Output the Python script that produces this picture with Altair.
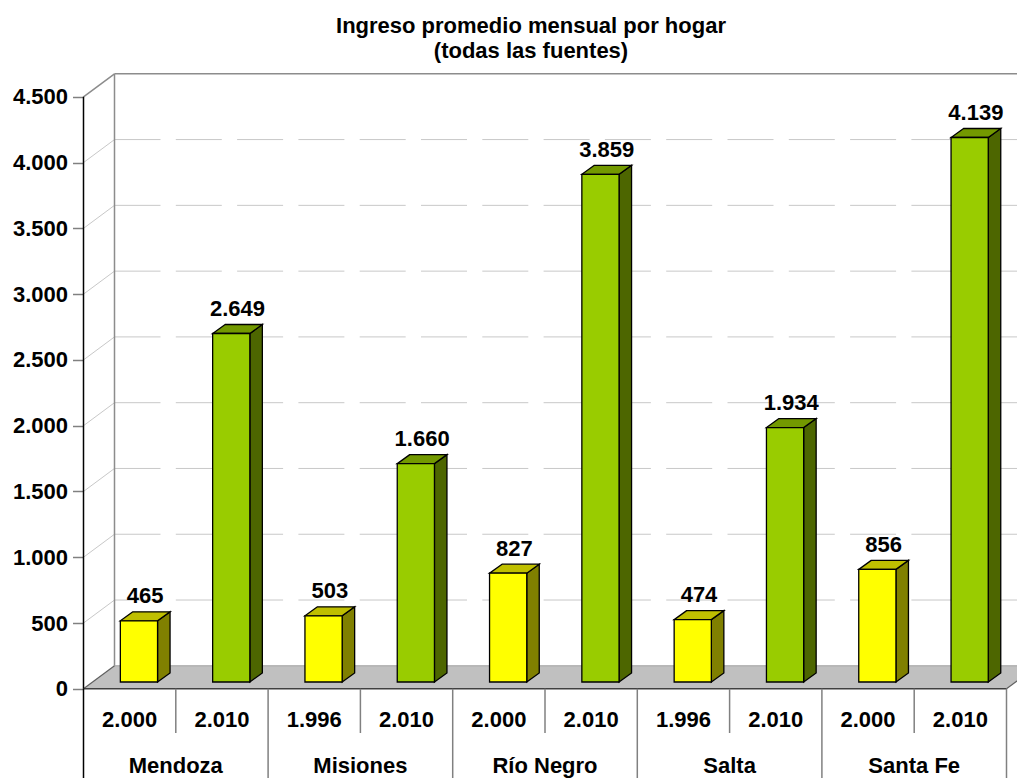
import altair as alt
import pandas as pd

# ---------------- data ----------------
title_lines = ["Ingreso promedio mensual por hogar", "(todas las fuentes)"]
provinces = ["Mendoza", "Misiones", "Río Negro", "Salta", "Santa Fe"]
first_year = ["2.000", "1.996", "2.000", "1.996", "2.000"]
second_year = ["2.010", "2.010", "2.010", "2.010", "2.010"]
first_values = [465, 503, 827, 474, 856]
second_values = [2649, 1660, 3859, 1934, 4139]
y_ticks = [0, 500, 1000, 1500, 2000, 2500, 3000, 3500, 4000, 4500]

# ---------------- geometry (style constants) ----------------
FONT = "Liberation Sans"
PX_X = 92.3                 # px per category slot
PX_Y = 592.0 / 4500.0       # px per value unit
PAD_L, PAD_T = 75.5, 54
W, H = 1009 - 75.5, 770 - 54
Y0_FROM_TOP = 626.8         # px from plot top to value 0

def ux(px):
    return px / PX_X

def uy(px):
    return px / PX_Y

XMAX = W / PX_X
YMAX = uy(Y0_FROM_TOP)
YMIN = -uy(H - Y0_FROM_TOP)
NSLOT = 2 * len(provinces)

DXF, DYF = ux(31.0), uy(23.0)          # floor depth
FRONT_L, FRONT_R = ux(9.3 - 18.6), ux(9.3 + 18.6)
BASE = uy(6.8)
BDX, BDY = ux(12.5), uy(9.0)
LBL_DX = ux(9.3 + 6.25)

xs = alt.Scale(domain=[0, XMAX], range=[0, W], nice=False, zero=False)
ys = alt.Scale(domain=[YMIN, YMAX], nice=False, zero=False)
yaxis = alt.Axis(values=y_ticks,
                 labelExpr="replace(format(datum.value, ',d'), ',', '.')",
                 domain=False, grid=False, ticks=True, tickSize=11,
                 tickColor="#808080", tickWidth=1.5,
                 labelFontSize=22, labelFont=FONT, labelFontWeight="bold",
                 labelColor="black", labelPadding=5, title=None)

def X(f):
    return alt.X(f, type="quantitative", scale=xs, axis=None)

def Y(f):
    return alt.Y(f, type="quantitative", scale=ys, axis=yaxis, stack=False)

# ---------------- tables ----------------
rows = []
for i, p in enumerate(provinces):
    pairs = [(first_year[i], first_values[i], "a"), (second_year[i], second_values[i], "b")]
    for j, (yr, val, ser) in enumerate(pairs):
        slot = 2 * i + j
        rows.append(dict(id=slot, serie=ser, year=yr, value=val, c=slot + 0.5))
bars = pd.DataFrame(rows)
bars["xl"] = bars.c + FRONT_L
bars["xr"] = bars.c + FRONT_R
bars["base"] = BASE
bars["top"] = bars.value + BASE
bars["label"] = bars.value.map(lambda v: f"{v:,}".replace(",", "."))
bars["lx"] = bars.c + LBL_DX
bars["ly"] = bars.top + BDY

side_rows, top_rows = [], []
for r in bars.itertuples():
    side_rows.append(dict(id=r.id, serie=r.serie, x=r.xr, y=r.top, y2=r.base))
    side_rows.append(dict(id=r.id, serie=r.serie, x=r.xr + BDX, y=r.top + BDY, y2=r.base + BDY))
    top_rows.append(dict(id=r.id, serie=r.serie, y=r.top, x=r.xl, x2=r.xr))
    top_rows.append(dict(id=r.id, serie=r.serie, y=r.top + BDY, x=r.xl + BDX, x2=r.xr + BDX))
side = pd.DataFrame(side_rows)
topf = pd.DataFrame(top_rows)

grid_vals = y_ticks[1:-1]
diag = pd.DataFrame(dict(x=0.0, y=grid_vals, x2=DXF, y2=[v + DYF for v in grid_vals]))
dash = pd.DataFrame(dict(x=DXF, y=[v + DYF for v in grid_vals], x2=XMAX))

wall = pd.DataFrame([
    dict(x=DXF, y=DYF, x2=DXF, y2=y_ticks[-1] + DYF),            # back vertical
    dict(x=0.0, y=y_ticks[-1], x2=DXF, y2=y_ticks[-1] + DYF),    # top diagonal
    dict(x=DXF, y=y_ticks[-1] + DYF, x2=XMAX, y2=y_ticks[-1] + DYF),  # top edge
    dict(x=DXF, y=DYF, x2=XMAX, y2=DYF),                         # floor back edge
])
floor = pd.DataFrame([dict(y=0.0, x=0.0, x2=float(NSLOT)), dict(y=DYF, x=DXF, x2=NSLOT + DXF)])
floor_edges = pd.DataFrame([
    dict(x=0.0, y=0.0, x2=DXF, y2=DYF),
    dict(x=float(NSLOT), y=0.0, x2=NSLOT + DXF, y2=DYF),
])
front_edge = pd.DataFrame([dict(x=0.0, y=0.0, x2=float(NSLOT), y2=0.0)])
front_axis = pd.DataFrame([dict(x=0.0, y=0.0, x2=0.0, y2=y_ticks[-1])])

YEAR_DIV = -uy(44.2)
tab_rows = [dict(x=0.0, y=0.0, x2=0.0, y2=YMIN, kind="left")]
for s in range(1, NSLOT + 1):
    if s % 2 == 1:
        tab_rows.append(dict(x=float(s), y=0.0, x2=float(s), y2=YEAR_DIV, kind="div"))
    else:
        tab_rows.append(dict(x=float(s), y=0.0, x2=float(s), y2=YMIN, kind="div"))
tab = pd.DataFrame(tab_rows)

year_lbl = pd.DataFrame(dict(x=bars.c, y=-uy(37.9), t=bars.year))
prov_lbl = pd.DataFrame(dict(x=[2 * i + 1.0 for i in range(len(provinces))], y=-uy(84.2), t=provinces))

def rule_layer(df, color, width=1.0, dashes=None):
    kw = dict(color=color, strokeWidth=width)
    if dashes:
        kw["strokeDash"] = dashes
    return alt.Chart(df).mark_rule(**kw).encode(x=X("x"), y=Y("y"), x2="x2", y2="y2")

front_cols = alt.Scale(domain=["a", "b"], range=["#FFFF00", "#99CC00"])
top_cols = alt.Scale(domain=["a", "b"], range=["#BFBF00", "#739900"])
side_cols = alt.Scale(domain=["a", "b"], range=["#808000", "#4D6600"])

layers = [
    rule_layer(diag, "#C8C8C8", 1.0),
    rule_layer(dash, "#C8C8C8", 1.0, [46, 15.3]),
    rule_layer(wall.iloc[[0, 1, 2]], "#8C8C8C", 1.5),
    alt.Chart(floor).mark_area(orient="horizontal", color="#C0C0C0").encode(
        y=Y("y"), x=X("x"), x2="x2"),
    rule_layer(wall.iloc[[3]], "#A0A0A0", 1.0),
    rule_layer(floor_edges, "#606060", 1.2),
    rule_layer(front_edge, "#404040", 1.5),
    alt.Chart(side).mark_area(orient="vertical", stroke="black", strokeWidth=1.3, fillOpacity=1).encode(
        x=X("x"), y=Y("y"), y2="y2", detail="id:N",
        color=alt.Color("serie:N", scale=side_cols, legend=None)),
    alt.Chart(topf).mark_area(orient="horizontal", stroke="black", strokeWidth=1.3, fillOpacity=1).encode(
        y=Y("y"), x=X("x"), x2="x2", detail="id:N",
        color=alt.Color("serie:N", scale=top_cols, legend=None)),
    alt.Chart(bars).mark_rect(stroke="black", strokeWidth=1.3).encode(
        x=X("xl"), x2="xr", y=Y("base"), y2="top",
        color=alt.Color("serie:N", scale=front_cols, legend=None)),
    alt.Chart(bars).mark_text(font=FONT, fontSize=22, fontWeight="bold", color="black",
                              baseline="alphabetic", align="center", dy=-8.7).encode(
        x=X("lx"), y=Y("ly"), text="label:N"),
    rule_layer(front_axis, "black", 1.5),
    rule_layer(tab[tab.kind == "left"], "black", 1.5),
    rule_layer(tab[tab.kind == "div"], "#808080", 1.5),
    alt.Chart(year_lbl).mark_text(font=FONT, fontSize=22, fontWeight="bold", color="black",
                                  baseline="alphabetic", align="center").encode(
        x=X("x"), y=Y("y"), text="t:N"),
    alt.Chart(prov_lbl).mark_text(font=FONT, fontSize=22, fontWeight="bold", color="black",
                                  baseline="alphabetic", align="center").encode(
        x=X("x"), y=Y("y"), text="t:N"),
]

chart = alt.layer(*layers).resolve_scale(color="independent").properties(
    width=W, height=H,
    padding={"left": PAD_L, "top": PAD_T, "right": 0, "bottom": 0},
    autosize=alt.AutoSizeParams(type="none"),
    title=alt.TitleParams(text=title_lines, anchor="start", align="center", frame="group",
                          dx=531 - 83.5, dy=4, offset=3, fontSize=22, lineHeight=25,
                          font=FONT, fontWeight="bold", color="black"),
).configure_view(strokeWidth=0)

chart.save("out.html", embed_options={"renderer": "svg", "actions": False})
